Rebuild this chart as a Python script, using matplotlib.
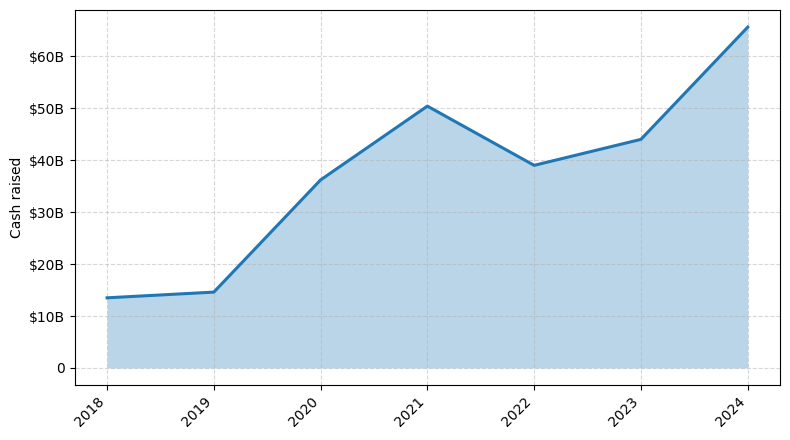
import numpy as np
import matplotlib.pyplot as plt
from matplotlib.ticker import FuncFormatter

# data (billions of dollars)
years = ['2018', '2019', '2020', '2021', '2022', '2023', '2024']
cash_raised = [13.5, 14.6, 36.2, 50.4, 39.0, 44.0, 65.6]

fig, ax = plt.subplots(figsize=(7.9, 4.4), dpi=100)
x = np.arange(len(years))
ax.fill_between(x, cash_raised, color='#1f77b4', alpha=0.3, linewidth=0)
ax.plot(x, cash_raised, color='#1f77b4', linewidth=2.2)

ax.set_xticks(x)
ax.set_xticklabels(years, rotation=45, ha='right')
ax.set_yticks(np.arange(0, 70, 10))
ax.yaxis.set_major_formatter(FuncFormatter(lambda v, p: '0' if v == 0 else f'${v:.0f}B'))
ax.set_ylabel('Cash raised')
ax.grid(True, linestyle='--', alpha=0.5)

fig.subplots_adjust(left=0.095, right=0.987, top=0.977, bottom=0.125)
fig.savefig('out.png')
